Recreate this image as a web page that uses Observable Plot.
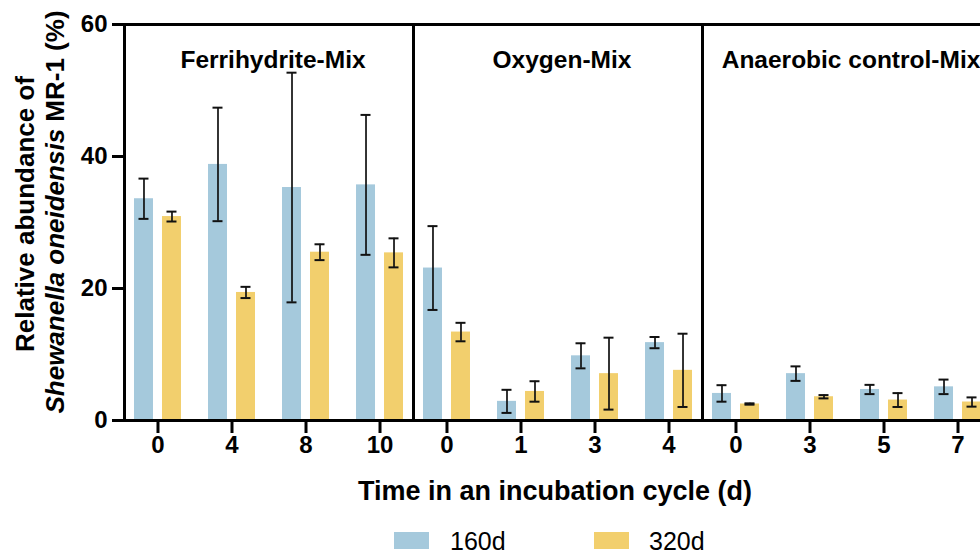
<!DOCTYPE html>
<html>
<head>
<meta charset="utf-8">
<script src="https://cdn.jsdelivr.net/npm/d3@7"></script>
<script src="https://cdn.jsdelivr.net/npm/@observablehq/plot@0.6"></script>
<style>
  html, body { margin: 0; padding: 0; background: #fff; overflow: hidden; }
  #wrap { position: relative; width: 980px; height: 554px; overflow: hidden; font-family: "Liberation Sans", Arial, sans-serif; }
  #chart { position: absolute; left: 0; top: 0; width: 991px; }
  #chart svg { max-width: none !important; }
  .xlabel { position: absolute; left: 0; width: 1110px; text-align: center; top: 478px; font-size: 27px; line-height: 27px; font-weight: bold; color: #000; white-space: nowrap; }
  .sw { position: absolute; top: 532px; width: 35px; height: 17px; }
  .lt { position: absolute; top: 529px; font-size: 25px; line-height: 25px; color: #000; }
</style>
</head>
<body>
<div id="wrap">
  <div id="chart"></div>
  <div class="xlabel">Time in an incubation cycle (d)</div>
  <div class="sw" style="left:394px;background:#a5c9dc"></div>
  <div class="lt" style="left:450px">160d</div>
  <div class="sw" style="left:594px;background:#f2cf6d"></div>
  <div class="lt" style="left:649px">320d</div>
</div>
<script>
// ---- data ----
const panels = ["Ferrihydrite-Mix", "Oxygen-Mix", "Anaerobic control-Mix"];
const timeLabels = [["0", "4", "8", "10"], ["0", "1", "3", "4"], ["0", "3", "5", "7"]];
const series = ["160d", "320d"];
const mean160 = [[33.6, 38.8, 35.3, 35.7], [23.1, 2.9, 9.8, 11.8], [4.1, 7.1, 4.7, 5.1]];
const sd160   = [[3.05, 8.6, 17.4, 10.6], [6.35, 1.75, 1.9, 0.85], [1.25, 1.1, 0.7, 1.1]];
const mean320 = [[30.9, 19.4, 25.5, 25.4], [13.4, 4.4, 7.1, 7.6], [2.5, 3.6, 3.1, 2.8]];
const sd320   = [[0.75, 0.85, 1.2, 2.2], [1.4, 1.55, 5.45, 5.55], [0.1, 0.25, 1.05, 0.7]];
const yTicks = [0, 20, 40, 60];
const colors = {"160d": "#a5c9dc", "320d": "#f2cf6d"};

// ---- tables ----
function rowsFor(means, sds, s) {
  const out = [];
  panels.forEach((p, pi) => timeLabels[pi].forEach((t, i) => {
    out.push({panel: p, idx: i, time: t, series: s, value: means[pi][i], sd: sds[pi][i]});
  }));
  return out;
}
const rows160 = rowsFor(mean160, sd160, "160d");
const rows320 = rowsFor(mean320, sd320, "320d");
const tickRows = [];
panels.forEach((p, pi) => timeLabels[pi].forEach((t, i) => tickRows.push({panel: p, idx: i, time: t})));

const bw = 47;   // band width (px) for a pair
const barW = 19;
const capW = 10;

const errMarks = (rows, sign) => {
  const center = sign < 0 ? barW / 2 : bw - barW / 2;
  const capL = center - capW / 2, capR = bw - (center + capW / 2);
  return [
    Plot.ruleX(rows, {fx: "panel", x: "idx", y1: d => d.value - d.sd, y2: d => d.value + d.sd, dx: sign * (bw / 2 - barW / 2), stroke: "#111", strokeWidth: 1.7}),
    Plot.tickY(rows, {fx: "panel", x: "idx", y: d => d.value - d.sd, insetLeft: capL, insetRight: capR, stroke: "#111", strokeWidth: 2}),
    Plot.tickY(rows, {fx: "panel", x: "idx", y: d => d.value + d.sd, insetLeft: capL, insetRight: capR, stroke: "#111", strokeWidth: 2})
  ];
};

const chart = Plot.plot({
  width: 991,
  height: 470,
  marginLeft: 124,
  marginRight: 0,
  marginTop: 24,
  marginBottom: 50,
  style: {fontFamily: "'Liberation Sans', Arial, sans-serif", fontSize: "24px", fontWeight: "bold", color: "#000", background: "transparent", maxWidth: "none"},
  fx: {domain: panels, paddingInner: 0, paddingOuter: 0, axis: null, label: null},
  x: {type: "band", domain: [0, 1, 2, 3], paddingInner: 0.365, paddingOuter: 0.135, round: false, axis: null},
  y: {domain: [0, 60], axis: null},
  marks: [
    Plot.barY(rows160, {fx: "panel", x: "idx", y1: 0, y2: "value", fill: colors["160d"], insetLeft: 0, insetRight: bw - barW}),
    Plot.barY(rows320, {fx: "panel", x: "idx", y1: 0, y2: "value", fill: colors["320d"], insetLeft: bw - barW, insetRight: 0}),
    ...errMarks(rows160, -1),
    ...errMarks(rows320, 1),
    Plot.frame({stroke: "#000", strokeWidth: 3}),
    Plot.axisY({ticks: yTicks, tickSize: 12, tickPadding: 5, strokeWidth: 3, label: null, fontSize: 24, fontWeight: "bold"}),
    Plot.axisX({tickSize: 13, strokeWidth: 3, tickFormat: () => "", label: null}),
    Plot.text(tickRows, {fx: "panel", x: "idx", text: "time", frameAnchor: "bottom", dy: 32, fontSize: 24, fontWeight: "bold", fill: "#000"}),
    Plot.text(panels, {fx: d => d, text: d => d, frameAnchor: "top", dy: 26, dx: 4, fontSize: 24.5, fontWeight: "bold", fill: "#000"})
  ]
});

chart.style.maxWidth = "none";
chart.style.width = "991px";
document.getElementById("chart").appendChild(chart);

// y-axis title (two lines, second partly italic)
const svg = d3.select(chart);
const g = svg.append("g")
  .attr("font-family", "'Liberation Sans', Arial, sans-serif")
  .attr("font-size", 26).attr("font-weight", "bold").attr("fill", "#000")
  .attr("text-anchor", "middle");
g.append("text").attr("transform", "translate(34,214) rotate(-90)").text("Relative abundance of");
const t2 = g.append("text").attr("transform", "translate(64,212) rotate(-90)").style("white-space", "pre");
t2.append("tspan").attr("font-style", "italic").text("Shewanella oneidensis");
t2.append("tspan").text(" MR-1 (%)");
</script>
</body>
</html>
